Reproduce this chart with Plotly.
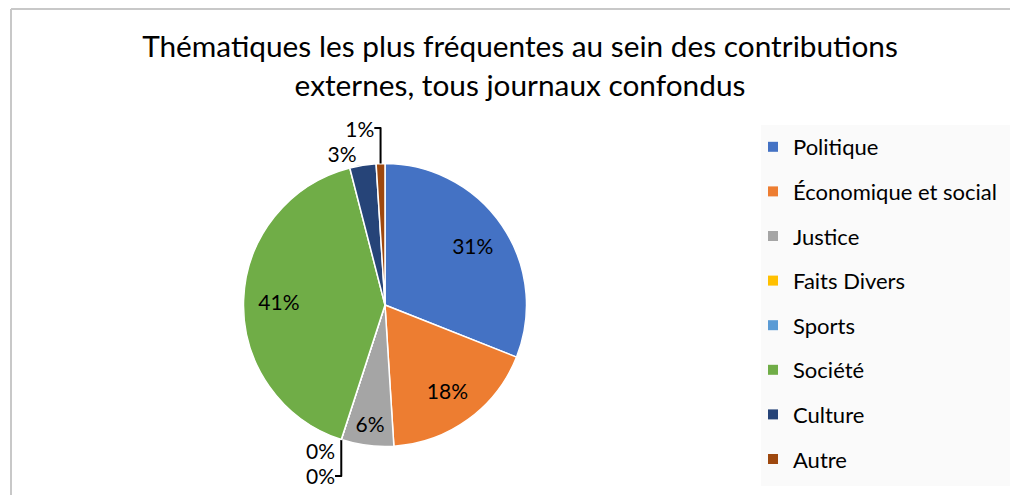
import plotly.graph_objects as go

categories = ["Politique", "Économique et social", "Justice", "Faits Divers",
              "Sports", "Société", "Culture", "Autre"]
values = [31, 18, 6, 0, 0, 41, 3, 1]
colors = ["#4472C4", "#ED7D31", "#A5A5A5", "#FFC000", "#5B9BD5", "#70AD47",
          "#264478", "#9E480E"]
label_inside = [True, True, True, False, False, True, False, False]
title_text = "Thématiques les plus fréquentes au sein des contributions<br>externes, tous journaux confondus"

# the page body has an 8px margin: the figure is drawn from (8, 8) in the window
OFF = 8
FW, FH = 1020 - OFF, 495 - OFF
FONT = "Lato"


def px(x):
    return (x - OFF) / FW


def py(y):
    return 1 - (y - OFF) / FH


pie_domain = dict(x=[px(243.5), px(526.5)], y=[py(446.5), py(163.5)])

fig = go.Figure()
# the pie itself, with the labels of the small slices outside
fig.add_trace(go.Pie(
    labels=categories,
    values=values,
    sort=False,
    direction="clockwise",
    rotation=0,
    marker=dict(colors=colors, line=dict(color="white", width=1.5)),
    texttemplate="%{percent:.0%}",
    textposition=["none" if s else "outside" for s in label_inside],
    textfont=dict(family=FONT, size=21, color="#000000"),
    outsidetextfont=dict(family=FONT, size=21, color="#000000"),
    showlegend=False,
    domain=pie_domain,
))
# same slices as a transparent ring: carries the inside labels near the rim
fig.add_trace(go.Pie(
    labels=categories,
    values=values,
    sort=False,
    direction="clockwise",
    rotation=0,
    hole=0.5,
    marker=dict(colors=["rgba(0,0,0,0)"] * len(values), line=dict(width=0)),
    texttemplate="%{percent:.0%}",
    textposition=["inside" if s else "none" for s in label_inside],
    insidetextorientation="horizontal",
    textfont=dict(family=FONT, size=21, color="#000000"),
    insidetextfont=dict(family=FONT, size=21, color="#000000"),
    hoverinfo="skip",
    showlegend=False,
    domain=pie_domain,
))

# legend entries (one per category)
for c, col in zip(categories, colors):
    fig.add_trace(go.Scatter(
        x=[None], y=[None], mode="markers", name=c, legendgroup=c,
        marker=dict(symbol="square", size=10, color=col),
        showlegend=True,
    ))

fig.update_layout(
    width=FW, height=FH,
    margin=dict(l=0, r=0, t=0, b=0),
    paper_bgcolor="white",
    plot_bgcolor="white",
    title=dict(text=title_text, x=px(520), xanchor="center", y=py(57), yanchor="top",
               font=dict(family=FONT, size=29.8, color="#000000")),
    xaxis=dict(visible=False),
    yaxis=dict(visible=False),
    legend=dict(
        x=px(753), xanchor="left", y=py(126), yanchor="top",
        bgcolor="rgba(0,0,0,0)",
        font=dict(family=FONT, size=22, color="#000000"),
        tracegroupgap=13,
        traceorder="grouped",
    ),
    shapes=[
        dict(type="rect", xref="paper", yref="paper",
             x0=px(761), x1=px(1010), y0=py(486), y1=py(125),
             fillcolor="#FAFAFA", line=dict(width=0), layer="below"),
        dict(type="line", xref="paper", yref="paper",
             x0=px(11), x1=px(11), y0=py(495), y1=py(9),
             line=dict(color="#C8C8C8", width=2)),
        dict(type="line", xref="paper", yref="paper",
             x0=px(11), x1=px(1010), y0=py(9), y1=py(9),
             line=dict(color="#C8C8C8", width=2)),
    ],
)

fig.write_html("out.html")
